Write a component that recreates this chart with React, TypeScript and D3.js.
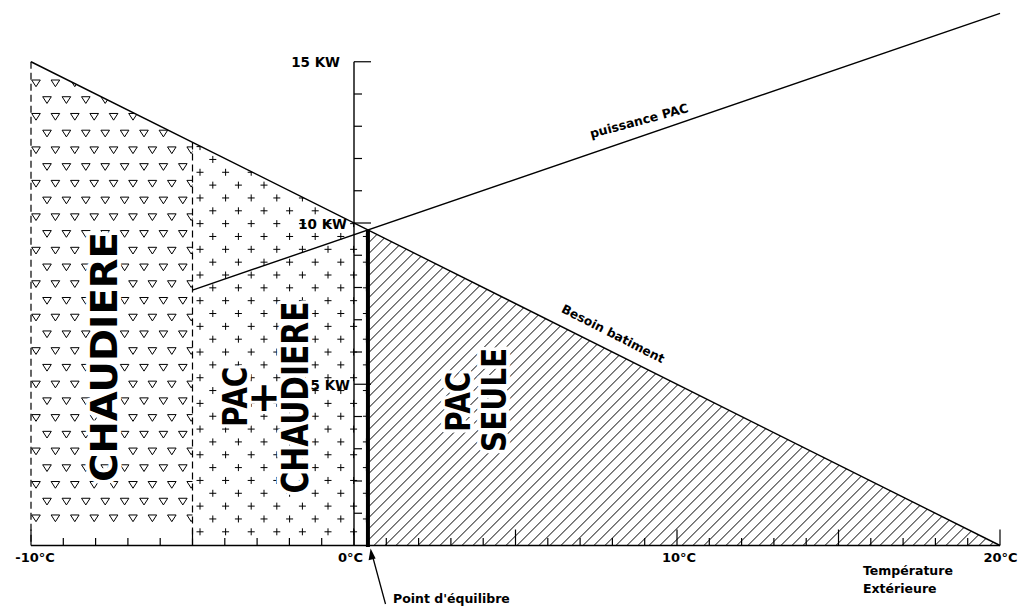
import React from 'react';
import * as d3 from 'd3';

// ---- data ----
const besoinTemps = [-10, 20];
const besoinKW = [15, 0];
const pacTemps = [-5, 20];
const pacKW = [7.92, 16.5];
const boundaryTemp = -5;
const xTickValues = d3.range(-10, 21, 1);
const yTickValues = d3.range(1, 16, 1);
const xLabelValues = [-10, 0, 10, 20];
const xLabelTexts = ['-10°C', '0°C', '10°C', '20°C'];
const yLabelValues = [5, 10, 15];
const yLabelTexts = ['5 KW', '10 KW', '15 KW'];

const W = 1020;
const H = 606;
const FONT = '"DejaVu Sans", sans-serif';

const x = d3.scaleLinear().domain([-10, 20]).range([31, 1000]);
const y = d3.scaleLinear().domain([0, 15]).range([545.5, 61.75]);

const lineFn = (ts: number[], ks: number[]) => (t: number) =>
  ks[0] + ((ks[1] - ks[0]) * (t - ts[0])) / (ts[1] - ts[0]);
const besoin = lineFn(besoinTemps, besoinKW);
const pac = lineFn(pacTemps, pacKW);
const sB = (besoinKW[1] - besoinKW[0]) / (besoinTemps[1] - besoinTemps[0]);
const sP = (pacKW[1] - pacKW[0]) / (pacTemps[1] - pacTemps[0]);
const eqT = (pac(0) - besoin(0)) / (sB - sP);

const poly = (pts: [number, number][]) => 'M' + pts.map((p) => p.join(',')).join('L') + 'Z';

const chaudPts: [number, number][] = [
  [x(-10), y(0)], [x(-10), y(besoin(-10))], [x(boundaryTemp), y(besoin(boundaryTemp))], [x(boundaryTemp), y(0)],
];
const plusPts: [number, number][] = [
  [x(boundaryTemp), y(0)], [x(boundaryTemp), y(besoin(boundaryTemp))], [x(eqT), y(besoin(eqT))], [x(eqT), y(0)],
];
const hatchPts: [number, number][] = [
  [x(eqT), y(0)], [x(eqT), y(besoin(eqT))], [x(20), y(0)],
];

// pattern marks
const triangles: string[] = [];
for (let r = -1; r <= 26; r++) {
  const top = 80 + r * 16.73;
  const par = ((r % 2) + 2) % 2;
  const start = par === 0 ? 36 : 47;
  for (let cx = start; cx < 205; cx += 19.4) {
    triangles.push(`M${cx - 4.3},${top}L${cx + 4.3},${top}L${cx},${top + 6.7}Z`);
  }
}
const pluses: string[] = [];
for (let r = -11; r <= 20; r++) {
  const cy = 275 + r * 12.84;
  const par = ((r % 2) + 2) % 2;
  const start = par === 0 ? 200 : 212.8;
  for (let cx = start; cx < 372; cx += 25.6) {
    pluses.push(`M${cx - 3.5},${cy}H${cx + 3.5}M${cx},${cy - 3.5}V${cy + 3.5}`);
  }
}
const hatches: string[] = [];
for (let c = x(eqT) - 700; c < 1010; c += 11) {
  hatches.push(`M${c},${y(0) + 2}L${c + 600},${y(0) + 2 - 600}`);
}

const VText = ({ cx, cy, len, text, size }: { cx: number; cy: number; len: number; text: string; size: number }) => {
  const cap = size * 0.73;
  return (
    <text
      transform={`translate(${cx + cap / 2},${cy}) rotate(-90)`}
      textAnchor="middle"
      fontFamily={FONT}
      fontWeight="bold"
      fontSize={size}
      textLength={len}
      lengthAdjust="spacingAndGlyphs"
      fill="#000"
      stroke="#fff"
      strokeWidth={8}
      strokeLinejoin="round"
      style={{ paintOrder: 'stroke' }}
    >
      {text}
    </text>
  );
};

export default function App() {
  const y0 = y(0);
  return (
    <svg width={W} height={H} style={{ position: 'absolute', left: 0, top: 0, background: '#fff' }}>
      <defs>
        <clipPath id="clipChaud"><path d={poly(chaudPts)} /></clipPath>
        <clipPath id="clipPlus"><path d={poly(plusPts)} /></clipPath>
        <clipPath id="clipHatch"><path d={poly(hatchPts)} /></clipPath>
      </defs>
      <rect x={0} y={0} width={W} height={H} fill="#fff" />

      {/* region patterns */}
      <g clipPath="url(#clipChaud)">
        <path d={triangles.join('')} fill="none" stroke="#000" strokeWidth={1} />
      </g>
      <g clipPath="url(#clipPlus)">
        <path d={pluses.join('')} fill="none" stroke="#000" strokeWidth={1} />
      </g>
      <g clipPath="url(#clipHatch)">
        <path d={hatches.join('')} fill="none" stroke="#000" strokeWidth={1} />
      </g>

      {/* region labels */}
      <VText cx={103.5} cy={357} len={250} text="CHAUDIERE" size={36.5} />
      <VText cx={234.5} cy={396.7} len={60} text="PAC" size={33.5} />
      <text x={264} y={411} textAnchor="middle" fontFamily={FONT} fontWeight="bold" fontSize={40}
        stroke="#fff" strokeWidth={6} style={{ paintOrder: 'stroke' }}>+</text>
      <VText cx={295} cy={397.5} len={192} text="CHAUDIERE" size={36.5} />
      <VText cx={457.5} cy={401.7} len={60} text="PAC" size={34} />
      <VText cx={494} cy={400} len={104} text="SEULE" size={34} />

      {/* boundaries */}
      <line x1={x(-10)} y1={y(besoin(-10))} x2={x(-10)} y2={y0} stroke="#000" strokeWidth={1.2} strokeDasharray="7 4" />
      <line x1={x(boundaryTemp)} y1={y(besoin(boundaryTemp))} x2={x(boundaryTemp)} y2={y0} stroke="#000" strokeWidth={1.2} strokeDasharray="7 4" />

      {/* curves */}
      <line x1={x(besoinTemps[0])} y1={y(besoinKW[0])} x2={x(besoinTemps[1])} y2={y(besoinKW[1])} stroke="#000" strokeWidth={1.4} />
      <line x1={x(pacTemps[0])} y1={y(pacKW[0])} x2={x(pacTemps[1])} y2={y(pacKW[1])} stroke="#000" strokeWidth={1.4} />

      {/* x axis */}
      <line x1={x(-10)} y1={y0} x2={x(20)} y2={y0} stroke="#000" strokeWidth={1.4} />
      {xTickValues.map((t) => (
        <line key={'xt' + t} x1={x(t)} x2={x(t)} y1={y0} y2={y0 - (t % 5 === 0 ? 16 : 7.5)} stroke="#000" strokeWidth={1.2} />
      ))}
      {/* y axis */}
      <line x1={x(0)} y1={y(15)} x2={x(0)} y2={y0} stroke="#000" strokeWidth={1.4} />
      {yTickValues.map((k) => (
        <line key={'yt' + k} x1={x(0)} x2={x(0) + (k % 5 === 0 ? 17 : 8)} y1={y(k)} y2={y(k)} stroke="#000" strokeWidth={1.2} />
      ))}

      {/* equilibrium */}
      <line x1={x(eqT)} y1={y0 + 1.5} x2={x(eqT)} y2={y(besoin(eqT))} stroke="#000" strokeWidth={4} />
      <line x1={385.5} y1={604} x2={372.5} y2={556} stroke="#000" strokeWidth={1.3} />
      <path d="M370.6,548.5 L375.6,558.5 L368.6,560.3 Z" fill="#000" />

      {/* labels */}
      <g fontFamily={FONT} fontWeight="bold" fontSize={13} fill="#000">
        {xLabelValues.map((v, i) => {
          const dx = [4, -3.5, 2, 0.5][i];
          return (
            <text key={'xl' + v} x={x(v) + dx} y={561.5} textAnchor="middle">{xLabelTexts[i]}</text>
          );
        })}
        {yLabelValues.map((v, i) => {
          const right = [350, 347, 340][i];
          return (
            <text key={'yl' + v} x={right} y={y(v) + 5.5} textAnchor="end" fontSize={13.5}>{yLabelTexts[i]}</text>
          );
        })}
        <text x={863} y={575} fontSize={12.5}>Température</text>
        <text x={863} y={593} fontSize={12.5}>Extérieure</text>
        <text x={393} y={603} fontSize={12.5}>Point d'équilibre</text>
        <text transform="translate(639,120.7) rotate(-15)" textAnchor="middle" dominantBaseline="central" fontSize={12.5}>puissance PAC</text>
        <text transform="translate(613,334) rotate(27)" textAnchor="middle" dominantBaseline="central" fontSize={12.3}>Besoin batiment</text>
      </g>
    </svg>
  );
}
